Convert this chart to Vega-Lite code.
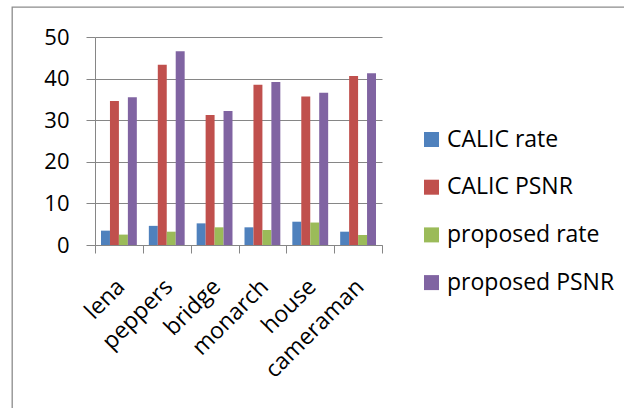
{
  "$schema": "https://vega.github.io/schema/vega-lite/v6.json",
  "width": 612,
  "height": 401,
  "autosize": {"type": "none"},
  "padding": {"left": 12, "top": 7, "right": 0, "bottom": 0},
  "background": "white",
  "config": {
    "font": "Open Sans",
    "view": {
      "stroke": "#8c8c8c",
      "strokeWidth": 1.3,
      "strokeDash": [612, 1013, 401, 0]
    }
  },
  "data": {
    "values": [
      {"image": "lena", "series": "CALIC rate", "value": 3.45},
      {"image": "lena", "series": "CALIC PSNR", "value": 34.6},
      {"image": "lena", "series": "proposed rate", "value": 2.5},
      {"image": "lena", "series": "proposed PSNR", "value": 35.5},
      {"image": "peppers", "series": "CALIC rate", "value": 4.6},
      {"image": "peppers", "series": "CALIC PSNR", "value": 43.3},
      {"image": "peppers", "series": "proposed rate", "value": 3.2},
      {"image": "peppers", "series": "proposed PSNR", "value": 46.6},
      {"image": "bridge", "series": "CALIC rate", "value": 5.2},
      {"image": "bridge", "series": "CALIC PSNR", "value": 31.25},
      {"image": "bridge", "series": "proposed rate", "value": 4.25},
      {"image": "bridge", "series": "proposed PSNR", "value": 32.2},
      {"image": "monarch", "series": "CALIC rate", "value": 4.25},
      {"image": "monarch", "series": "CALIC PSNR", "value": 38.5},
      {"image": "monarch", "series": "proposed rate", "value": 3.6},
      {"image": "monarch", "series": "proposed PSNR", "value": 39.2},
      {"image": "house", "series": "CALIC rate", "value": 5.6},
      {"image": "house", "series": "CALIC PSNR", "value": 35.7},
      {"image": "house", "series": "proposed rate", "value": 5.4},
      {"image": "house", "series": "proposed PSNR", "value": 36.6},
      {"image": "cameraman", "series": "CALIC rate", "value": 3.2},
      {"image": "cameraman", "series": "CALIC PSNR", "value": 40.6},
      {"image": "cameraman", "series": "proposed rate", "value": 2.4},
      {"image": "cameraman", "series": "proposed PSNR", "value": 41.3}
    ]
  },
  "mark": {"type": "bar"},
  "encoding": {
    "x": {
      "field": "image",
      "type": "nominal",
      "sort": ["lena", "peppers", "bridge", "monarch", "house", "cameraman"],
      "scale": {"range": [83, 370], "paddingInner": 0, "paddingOuter": 0},
      "axis": {
        "title": null,
        "orient": "bottom",
        "offset": -163,
        "tickBand": "extent",
        "tickSize": 8,
        "tickColor": "#868686",
        "domainColor": "#868686",
        "labelAngle": -45,
        "labelFontSize": 23,
        "labelColor": "black",
        "labelPadding": 22,
        "labelOffset": -6,
        "grid": false
      }
    },
    "xOffset": {
      "field": "series",
      "sort": ["CALIC rate", "CALIC PSNR", "proposed rate", "proposed PSNR"],
      "scale": {"paddingInner": 0, "paddingOuter": 0.67}
    },
    "y": {
      "field": "value",
      "type": "quantitative",
      "scale": {"domain": [0, 50], "range": [238, 30], "nice": false, "zero": true},
      "axis": {
        "title": null,
        "offset": -83,
        "values": [0, 10, 20, 30, 40, 50],
        "tickSize": 9,
        "tickColor": "#868686",
        "domainColor": "#868686",
        "gridColor": "#868686",
        "grid": true,
        "labelFontSize": 22,
        "labelColor": "black",
        "labelPadding": 17
      }
    },
    "color": {
      "field": "series",
      "type": "nominal",
      "scale": {
        "domain": ["CALIC rate", "CALIC PSNR", "proposed rate", "proposed PSNR"],
        "range": ["#4F81BD", "#C0504D", "#9BBB59", "#8064A2"]
      },
      "legend": {
        "title": null,
        "orient": "none",
        "legendX": 408,
        "legendY": 121,
        "symbolType": "square",
        "symbolSize": 225,
        "symbolStrokeWidth": 0,
        "labelFontSize": 23,
        "labelLimit": 400,
        "labelColor": "black",
        "labelOffset": 4,
        "rowPadding": 23.7
      }
    }
  }
}
